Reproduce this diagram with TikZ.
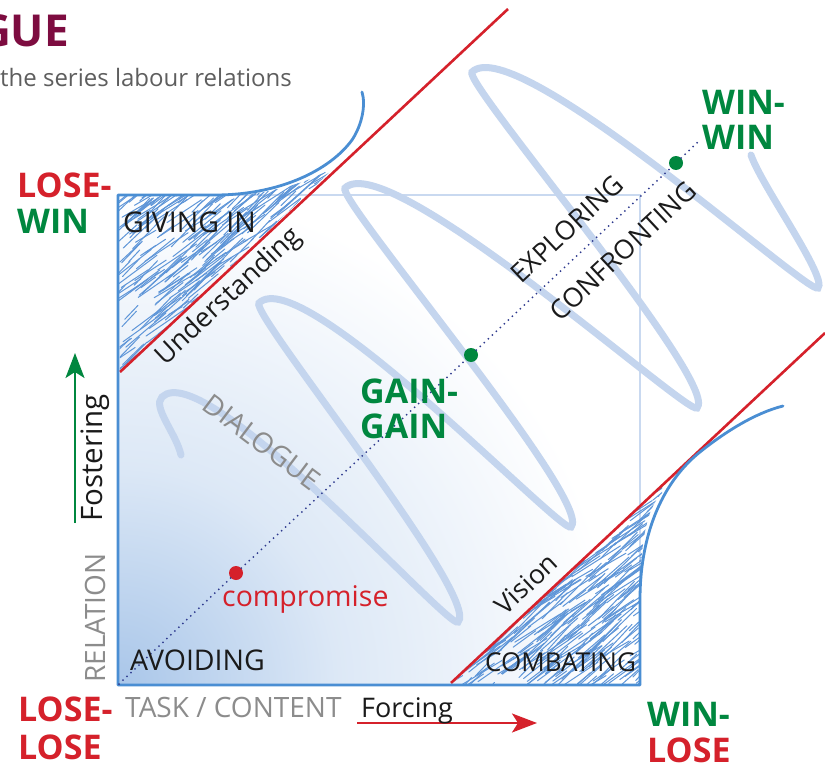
\documentclass[tikz,border=0pt]{standalone}
\usepackage{fontspec}
\setmainfont{Open Sans}
\usetikzlibrary{arrows.meta}

\definecolor{maroon}{HTML}{7D0C40}
\definecolor{subgray}{HTML}{5E5E5E}
\definecolor{axisgray}{HTML}{8C8C8C}
\definecolor{losered}{HTML}{D5212B}
\definecolor{wingreen}{HTML}{00873F}
\definecolor{edgeblue}{HTML}{4A8ED3}
\definecolor{paleblue}{HTML}{C9D9F0}
\definecolor{springblue}{HTML}{C4D5EE}
\definecolor{hatchblue}{HTML}{5F96D8}
\definecolor{dotnavy}{HTML}{2E3A8E}
\definecolor{ink}{HTML}{1A1A1A}
\definecolor{shadeblue}{HTML}{A9C6E9}
\colorlet{shademid}{shadeblue!40!white}

% corner wash: blue at the centre, fading out to white
\pgfdeclareradialshading{cornerwash}{\pgfpointorigin}{color(0bp)=(shadeblue); color(11bp)=(shademid); color(25bp)=(white); color(50bp)=(white)}

\begin{document}
\begin{tikzpicture}[x=1pt,y=-1pt,
  lbl/.style={font=\fontsize{28}{30}\selectfont, text=ink, inner sep=0pt},
  graylbl/.style={font=\fontsize{28}{30}\selectfont, text=axisgray, inner sep=0pt},
  outcome/.style={font=\bfseries\fontsize{34}{36}\selectfont, inner sep=0pt, anchor=base west},
  dot/.style={circle, minimum size=14pt, inner sep=0pt, draw=none},
  thinedge/.style={draw=paleblue, line width=1.5pt},
  edge/.style={draw=edgeblue, line width=2.8pt, line cap=round, line join=round},
  redline/.style={draw=losered, line width=2.6pt},
  spring/.style={draw=springblue, line width=7pt, line cap=round},
  hatchline/.style={draw=hatchblue, line width=1pt, line cap=round},
  dotline/.style={draw=dotnavy, line width=2pt, line cap=round, dash pattern=on 0pt off 5.5pt},
  axisarrow/.style={line width=2pt, -{Stealth[length=25pt,width=19pt,inset=6pt]}}
]
\useasboundingbox (0,0) rectangle (825,768);
\fill[white] (0,0) rectangle (825,768);

% soft blue wash rising from the lose-lose corner
\begin{scope}
  \clip (118,195) rectangle (640,685);
  \shade[shading=cornerwash] (118,685) circle (500);
\end{scope}

% faint outline of the field
\draw[thinedge] (118,195) -- (640,195) -- (640,685);

% the dialogue spiral: shallow runs down, steep runs back up
\draw[spring] (181,455) .. controls +(-5,-22) and +(-10,10) .. (162,397)
  .. controls +(43,-42) and +(-9,8) .. (458,622)
  .. controls +(24,-24) and +(-10,10) .. (259,303)
  .. controls +(43,-42) and +(-9,8) .. (571,527)
  .. controls +(24,-24) and +(-10,10) .. (345,188)
  .. controls +(43,-42) and +(-9,8) .. (697,408)
  .. controls +(24,-24) and +(-10,10) .. (472,72)
  .. controls +(43,-42) and +(-9,8) .. (818,288)
  .. controls +(10,-10) and +(10,30) .. (751,155);

% scribbled fill: giving in
\begin{scope}
  \clip (118,196) -- (215,196) .. controls (280,196) and (322,176) .. (338,164) -- (120,372) -- cycle;
  \pgfmathsetseed{11}
  \foreach \i in {1,...,600}{
    \pgfmathsetmacro{\cx}{112+rnd*230}
    \pgfmathsetmacro{\cy}{160+rnd*220}
    \pgfmathsetmacro{\ang}{-30-rnd*18}
    \pgfmathsetmacro{\len}{15+rnd*45}
    \draw[hatchline] (\cx,\cy) -- +(\ang:\len);
  }
\end{scope}

% scribbled fill: combating
\begin{scope}
  \clip (452,684) -- (640,684) -- (640,600) .. controls (640,530) and (650,505) .. (662,493) -- (662,486) -- cycle;
  \pgfmathsetseed{23}
  \foreach \i in {1,...,600}{
    \pgfmathsetmacro{\cx}{440+rnd*230}
    \pgfmathsetmacro{\cy}{480+rnd*215}
    \pgfmathsetmacro{\ang}{-30-rnd*18}
    \pgfmathsetmacro{\len}{15+rnd*45}
    \draw[hatchline] (\cx,\cy) -- +(\ang:\len);
  }
\end{scope}

% red boundary lines
\coordinate (ru0) at (120,372); \coordinate (ru1) at (508,9);
\coordinate (rl0) at (451,683); \coordinate (rl1) at (825,333);
\draw[redline] (ru0) -- (ru1);
\draw[redline] (rl0) -- (rl1);

% solid blue frame with its two flaring ends
\draw[edge] (362,92) .. controls (366,105) and (362,125) .. (352,140)
  .. controls (330,170) and (280,195) .. (215,195) -- (118,195) -- (118,685)
  -- (640,685) -- (640,600) .. controls (640,530) and (665,480) .. (700,452)
  .. controls (725,432) and (755,413) .. (783,406);

% diagonal from lose-lose to win-win
\coordinate (dl0) at (119,684);
\node[dot, fill=losered] (cmp) at (236,573) {};
\node[dot, fill=wingreen] (gain) at (471,355) {};
\node[dot, fill=wingreen] (win) at (676,163) {};
\coordinate (dl1) at (700,140);
\draw[dotline] (dl0) -- (cmp) -- (gain) -- (win) -- (dl1);

% axis arrows
\coordinate (ga0) at (75,523); \coordinate (ga1) at (75,353);
\draw[axisarrow, draw=wingreen, fill=wingreen] (ga0) -- (ga1);
\coordinate (ra0) at (357,723); \coordinate (ra1) at (537,723);
\draw[axisarrow, draw=losered, fill=losered] (ra0) -- (ra1);

% heading
\node[anchor=base east, inner sep=0pt, font=\bfseries\fontsize{44}{46}\selectfont, text=maroon] (ttl) at (69,47) {GUE};
\node[anchor=base west, inner sep=0pt, font=\fontsize{24}{26}\selectfont, text=subgray] (sub) at (0,87) {the series labour relations};

% outcomes
\node[outcome, text=losered] (lw1) at (17,197) {LOSE-};
\node[outcome, text=wingreen] (lw2) at (17,233) {WIN};
\node[outcome, text=wingreen] (ww1) at (702,114) {WIN-};
\node[outcome, text=wingreen] (ww2) at (702,149) {WIN};
\node[outcome, text=wingreen] (gg1) at (360,403) {GAIN-};
\node[outcome, text=wingreen] (gg2) at (360,438) {GAIN};
\node[outcome, text=losered] (ll1) at (18,721) {LOSE-};
\node[outcome, text=losered] (ll2) at (18,759) {LOSE};
\node[outcome, text=wingreen] (wl1) at (647,726) {WIN-};
\node[outcome, text=losered] (wl2) at (647,762) {LOSE};

% styles of handling
\node[lbl, anchor=base west, font=\fontsize{28.5}{30}\selectfont] (giv) at (123,232) {GIVING IN};
\node[lbl, anchor=base west, font=\fontsize{28.5}{30}\selectfont] (avo) at (130,670) {AVOIDING};
\node[lbl, anchor=base west, font=\fontsize{26}{28}\selectfont] (com) at (485,671) {COMBATING};
\node[lbl, rotate=43, font=\fontsize{27}{29}\selectfont] (und) at (229,297) {Understanding};
\node[lbl, rotate=43, font=\fontsize{26.5}{28}\selectfont] (vis) at (526,584) {Vision};
\node[lbl, rotate=43, font=\fontsize{26.5}{28}\selectfont] (exp) at (567,229) {EXPLORING};
\node[lbl, rotate=43, font=\fontsize{26.5}{28}\selectfont] (con) at (623,251) {CONFRONTING};
\node[graylbl, rotate=-37] (dia) at (262,442) {DIALOGUE};
\node[anchor=base west, inner sep=0pt, font=\fontsize{28.5}{30}\selectfont, text=losered] (cmpl) at (222,606) {compromise};

% axes
\node[lbl, rotate=90, font=\fontsize{29.5}{31}\selectfont] (fos) at (95,458) {Fostering};
\node[graylbl, rotate=90] (rel) at (95,618) {RELATION};
\node[graylbl, anchor=base west] (task) at (125,717) {TASK / CONTENT};
\node[lbl, anchor=base west, font=\fontsize{27}{29}\selectfont] (frc) at (361,717) {Forcing};
\end{tikzpicture}
\end{document}
